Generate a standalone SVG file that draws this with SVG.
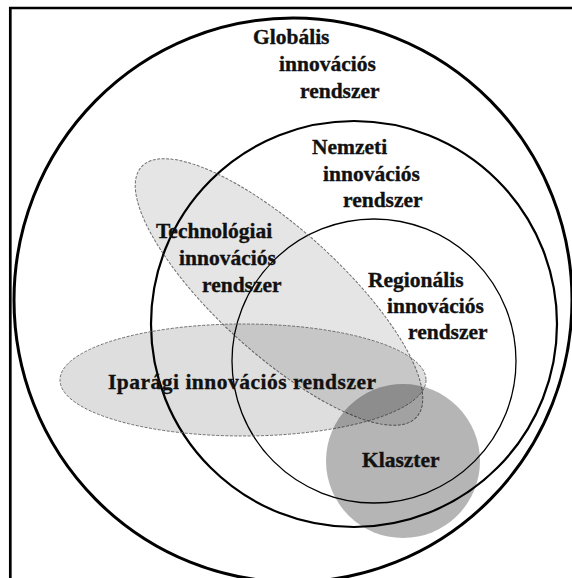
<svg xmlns="http://www.w3.org/2000/svg" width="572" height="578" viewBox="0 0 572 578">
<style>
text{font-family:"Liberation Serif","Times New Roman",serif;font-weight:bold;font-size:21.5px;fill:#111;stroke:#111;stroke-width:0.35}
.ring{fill:none;stroke:#000}
.dash{stroke:#6e6e6e;stroke-width:1;stroke-dasharray:3 1.5}
</style>
<rect x="0" y="0" width="572" height="578" fill="#fff"/>
<path d="M10.3 578 V8 H572" fill="none" stroke="#000" stroke-width="2.7"/>
<g id="global">
<ellipse class="ring" cx="293" cy="300" rx="279" ry="282" stroke-width="3"/>
<text x="253" y="44">Globális</text>
<text x="279" y="71">innovációs</text>
<text x="300" y="98">rendszer</text>
</g>
<g id="nemzeti">
<circle class="ring" cx="354" cy="324" r="203" stroke-width="2.2"/>
<text x="312" y="154">Nemzeti</text>
<text x="323" y="181">innovációs</text>
<text x="343" y="207">rendszer</text>
</g>
<g id="regionalis">
<circle class="ring" cx="374" cy="361" r="142" stroke-width="1.3"/>
<text x="368" y="287">Regionális</text>
<text x="387" y="313">innovációs</text>
<text x="408" y="339">rendszer</text>
</g>
<g id="technologiai">
<ellipse class="dash" cx="279" cy="292" rx="186" ry="62" transform="rotate(42.3 279 292)" fill="#000" fill-opacity="0.1"/>
<text x="156" y="238">Technológiai</text>
<text x="179" y="265">innovációs</text>
<text x="202" y="292">rendszer</text>
</g>
<g id="iparagi">
<ellipse class="dash" cx="243" cy="380" rx="183" ry="56" fill="#000" fill-opacity="0.13"/>
<text x="108" y="389" textLength="268" lengthAdjust="spacing">Iparági innovációs rendszer</text>
</g>
<g id="klaszter">
<circle cx="403" cy="461" r="77" fill="#000" fill-opacity="0.29"/>
<text x="362" y="467">Klaszter</text>
</g>
<g id="connectors"/>
</svg>
